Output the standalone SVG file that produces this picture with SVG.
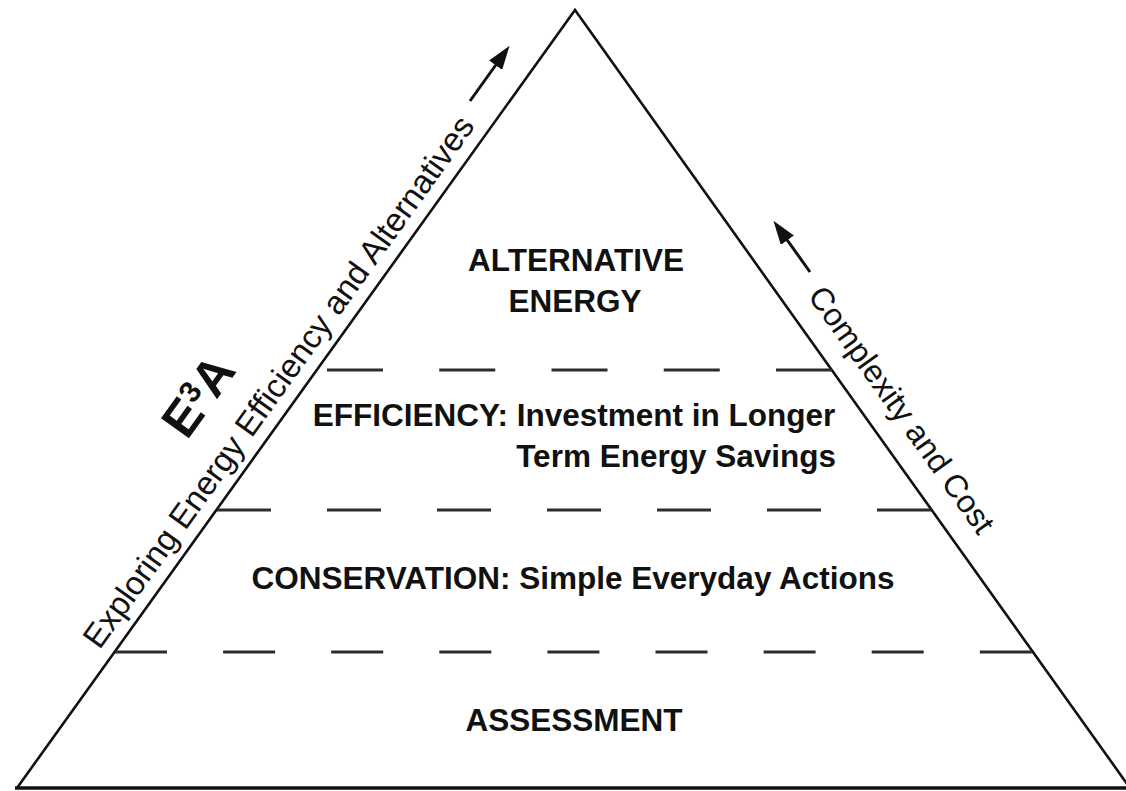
<svg xmlns="http://www.w3.org/2000/svg" width="1126" height="791" viewBox="0 0 1126 791">
  <style>
    .edge { fill: none; stroke: #111; stroke-width: 2.6; stroke-linejoin: miter; }
    .base { stroke: #111; stroke-width: 3.6; }
    .dash { stroke: #2b2b2b; stroke-width: 3; fill: none; }
    .lvl { font-family: "Liberation Sans", Arial, Helvetica, sans-serif; font-weight: bold; font-size: 31.5px; fill: #111; text-anchor: middle; }
    .side { font-family: "Liberation Sans", Arial, Helvetica, sans-serif; font-size: 33px; fill: #111; }
    .logo { font-family: "Liberation Sans", Arial, Helvetica, sans-serif; font-weight: bold; font-size: 50px; fill: #111; }
    .arrow { stroke: #111; stroke-width: 3; fill: none; }
  </style>
  <defs>
    <marker id="head" viewBox="0 0 24 16" refX="12" refY="8" markerWidth="24" markerHeight="16" markerUnits="userSpaceOnUse" orient="auto">
      <path d="M0,0 L24,8 L0,16 z" fill="#111"/>
    </marker>
  </defs>
  <rect width="1126" height="791" fill="#fff"/>

  <g id="pyramid">
    <path class="edge" d="M17,788 L575,10 L1130,788"/>
    <line class="base" x1="15" y1="788" x2="1126" y2="788"/>
  </g>

  <g id="dividers">
    <line class="dash" x1="327" y1="370" x2="832" y2="370" stroke-dasharray="56 56.25"/>
    <line class="dash" x1="217" y1="510" x2="931" y2="510" stroke-dasharray="54 56"/>
    <line class="dash" x1="115" y1="652" x2="1032" y2="652" stroke-dasharray="52 56.1"/>
  </g>

  <g id="level-alternative">
    <text class="lvl" x="576" y="271">ALTERNATIVE</text>
    <text class="lvl" x="575" y="312">ENERGY</text>
  </g>
  <g id="level-efficiency">
    <text class="lvl" x="574" y="426">EFFICIENCY: Investment in Longer</text>
    <text class="lvl" x="836" y="467" style="text-anchor:end">Term Energy Savings</text>
  </g>
  <g id="level-conservation">
    <text class="lvl" x="573" y="589">CONSERVATION: Simple Everyday Actions</text>
  </g>
  <g id="level-assessment">
    <text class="lvl" x="574" y="731">ASSESSMENT</text>
  </g>

  <g id="label-left">
    <text class="side" transform="translate(99.6,650.4) rotate(-54.35)">Exploring Energy Efficiency and Alternatives</text>
    <text class="logo" transform="translate(187,441) rotate(-54.35)">E<tspan font-size="30" dy="-16">3</tspan><tspan dy="16">A</tspan></text>
  </g>
  <g id="label-right">
    <text class="side" style="font-size:32px" transform="translate(807,296) rotate(54.5)">Complexity and Cost</text>
  </g>

  <g id="connectors">
    <line class="arrow" x1="470" y1="101" x2="502.6" y2="55.5" marker-end="url(#head)"/>
    <line class="arrow" x1="810" y1="272" x2="780.4" y2="230.5" marker-end="url(#head)"/>
  </g>
</svg>
